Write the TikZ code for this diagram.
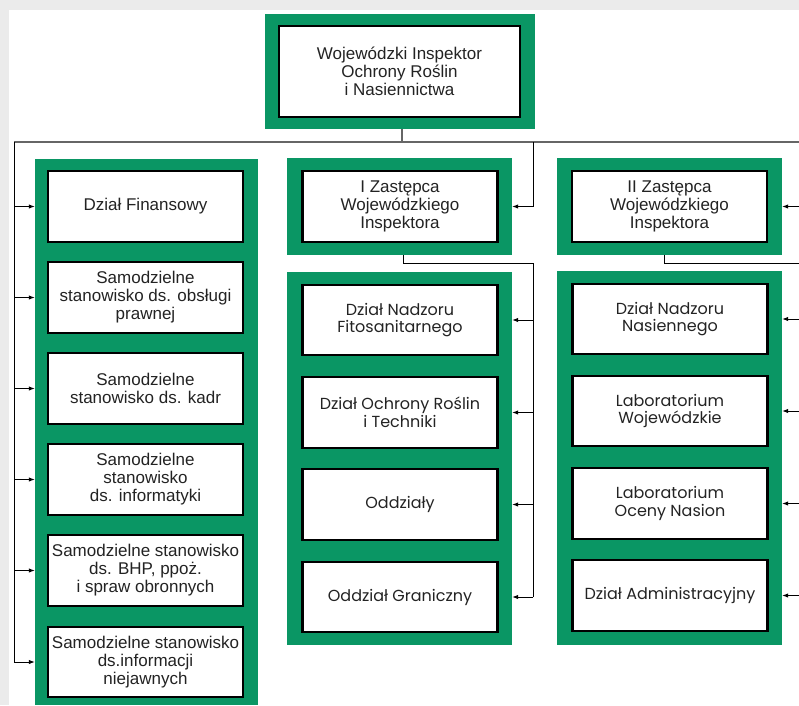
\documentclass[tikz,border=0pt]{standalone}
\usepackage{fontspec}
\setmainfont{Liberation Sans}
\newfontfamily\lowfont{Poppins}
\usetikzlibrary{arrows.meta,calc}
\definecolor{frgreen}{RGB}{10,150,100}
\definecolor{bggray}{RGB}{235,235,235}
\definecolor{txt}{RGB}{35,35,35}
\begin{document}
\begin{tikzpicture}[x=1pt,y=-1pt,
  frame/.style={fill=frgreen, draw=none, inner sep=0pt, minimum width=225pt},
  box/.style={draw=black, line width=2.4pt, fill=white, inner sep=0pt,
    minimum width=195pt, minimum height=70.5pt, align=center, text=txt,
    font=\fontsize{17}{18}\selectfont},
  lbox/.style={box, font=\lowfont\fontsize{16}{17.8}\selectfont},
  bus/.style={draw=black!60, line width=1.6pt},
  conn/.style={draw=black, line width=1pt},
  arr/.style={conn, -{Latex[length=6pt,width=4.5pt]}}
]
\useasboundingbox (0,0) rectangle (799,705);
\fill[bggray] (0,0) rectangle (799,705);
\fill[white] (9,10) rectangle (799,705);

% top
\node[frame, minimum width=270pt, minimum height=115pt] (topF) at (399.5,71.5) {};
\node[box, minimum width=241.5pt, minimum height=90.5pt] (top) at (399.5,71.5)
  {Wojewódzki Inspektor\\Ochrony Roślin\\i Nasiennictwa};

% left column
\node[frame, minimum width=223pt, minimum height=546pt] (leftF) at (146.5,432) {};
\node[box] (l1) at (145.5,206.5) {Dział Finansowy};
\node[box] (l2) at (145.5,297.5) {Samodzielne\\stanowisko ds. obsługi\\prawnej};
\node[box] (l3) at (145.5,388.5) {Samodzielne\\stanowisko ds. kadr};
\node[box] (l4) at (145.5,479.5) {Samodzielne\\stanowisko\\ds. informatyki};
\node[box] (l5) at (145.5,570.5) {Samodzielne stanowisko\\ds. BHP, ppoż.\\i spraw obronnych};
\node[box] (l6) at (145.5,662) {Samodzielne stanowisko\\ds.informacji\\niejawnych};

% deputies
\node[frame, minimum height=97pt] (z1F) at (399.5,206.5) {};
\node[box] (z1) at (400,206.5) {I Zastępca\\Wojewódzkiego\\Inspektora};
\node[frame, minimum height=97pt] (z2F) at (669.5,206.5) {};
\node[box] (z2) at (669.5,206.5) {II Zastępca\\Wojewódzkiego\\Inspektora};

% middle lower column
\node[frame, minimum height=373pt] (midF) at (399.5,458.5) {};
\node[lbox] (m1) at (400,320) {Dział Nadzoru\\Fitosanitarnego};
\node[lbox] (m2) at (400,412.5) {Dział Ochrony Roślin\\i Techniki};
\node[lbox] (m3) at (400,504.5) {Oddziały};
\node[lbox] (m4) at (400,597) {Oddział Graniczny};

% right lower column
\node[frame, minimum height=374pt] (rightF) at (669.5,458) {};
\node[lbox] (r1) at (670,319) {Dział Nadzoru\\Nasiennego};
\node[lbox] (r2) at (670,411) {Laboratorium\\Wojewódzkie};
\node[lbox] (r3) at (670,503.5) {Laboratorium\\Oceny Nasion};
\node[lbox] (r4) at (670,595.5) {Dział Administracyjny};

% connectors
\coordinate (busL) at (14,142);
\coordinate (busR) at (800.5,142);
\coordinate (busM) at (533,142);
\coordinate (bus2) at (533,263);
\coordinate (bus3) at (800.5,263);

\draw[bus] ([xshift=2.5pt]topF.south) -- ([xshift=2.5pt]topF.south |- busL);
\draw[bus] (busL) -- (busR);

\draw[conn] (busL) -- (busL |- l6);
\foreach \n in {l1,l2,l3,l4,l5,l6}
  \draw[arr] (busL |- \n) -- (leftF.west |- \n);

\draw[arr] (busM) |- (z1F.east);
\draw[arr] (busR) |- (z2F.east);

\draw[conn] ([xshift=3.5pt]z1F.south) |- (bus2) -- (bus2 |- m4);
\foreach \n in {m1,m2,m3,m4}
  \draw[arr] (bus2 |- \n) -- (midF.east |- \n);

\draw[conn] ([xshift=-5.5pt]z2F.south) |- (bus3) -- (bus3 |- r4);
\foreach \n in {r1,r2,r3,r4}
  \draw[arr] (bus3 |- \n) -- (rightF.east |- \n);
\end{tikzpicture}
\end{document}
